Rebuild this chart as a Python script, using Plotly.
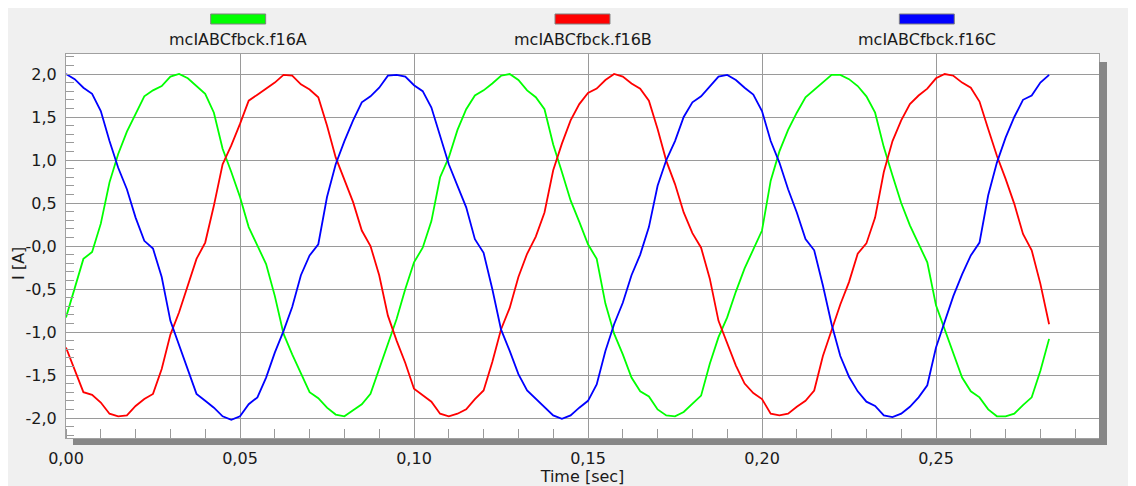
import plotly.graph_objects as go

# ---------------------------------------------------------------------------
# Data (sample step 2.5 ms)
# ---------------------------------------------------------------------------
time_s = [
    0.0000, 0.0025, 0.0050, 0.0075, 0.0100, 0.0125, 0.0150, 0.0175, 0.0200, 0.0225,
    0.0250, 0.0275, 0.0300, 0.0325, 0.0350, 0.0375, 0.0400, 0.0425, 0.0450, 0.0475,
    0.0500, 0.0525, 0.0550, 0.0575, 0.0600, 0.0625, 0.0650, 0.0675, 0.0700, 0.0725,
    0.0750, 0.0775, 0.0800, 0.0825, 0.0850, 0.0875, 0.0900, 0.0925, 0.0950, 0.0975,
    0.1000, 0.1025, 0.1050, 0.1075, 0.1100, 0.1125, 0.1150, 0.1175, 0.1200, 0.1225,
    0.1250, 0.1275, 0.1300, 0.1325, 0.1350, 0.1375, 0.1400, 0.1425, 0.1450, 0.1475,
    0.1500, 0.1525, 0.1550, 0.1575, 0.1600, 0.1625, 0.1650, 0.1675, 0.1700, 0.1725,
    0.1750, 0.1775, 0.1800, 0.1825, 0.1850, 0.1875, 0.1900, 0.1925, 0.1950, 0.1975,
    0.2000, 0.2025, 0.2050, 0.2075, 0.2100, 0.2125, 0.2150, 0.2175, 0.2200, 0.2225,
    0.2250, 0.2275, 0.2300, 0.2325, 0.2350, 0.2375, 0.2400, 0.2425, 0.2450, 0.2475,
    0.2500, 0.2525, 0.2550, 0.2575, 0.2600, 0.2625, 0.2650, 0.2675, 0.2700, 0.2725,
    0.2750, 0.2775, 0.2800, 0.2825,
]

i_a = [
    -0.83, -0.48, -0.15, -0.07, 0.26, 0.74, 1.07, 1.33, 1.54, 1.74,
    1.81, 1.86, 1.97, 2.00, 1.95, 1.86, 1.77, 1.55, 1.13, 0.86,
    0.57, 0.22, 0.00, -0.21, -0.58, -1.02, -1.26, -1.47, -1.70, -1.77,
    -1.88, -1.96, -1.98, -1.91, -1.84, -1.72, -1.43, -1.12, -0.85, -0.50,
    -0.19, -0.02, 0.29, 0.80, 1.03, 1.35, 1.59, 1.75, 1.81, 1.89,
    1.98, 2.00, 1.93, 1.81, 1.73, 1.59, 1.18, 0.86, 0.53, 0.28,
    0.02, -0.15, -0.67, -1.02, -1.26, -1.53, -1.69, -1.75, -1.90, -1.97,
    -1.98, -1.93, -1.83, -1.74, -1.37, -1.06, -0.83, -0.53, -0.26, -0.05,
    0.18, 0.76, 1.10, 1.35, 1.55, 1.73, 1.82, 1.90, 1.99, 1.99,
    1.94, 1.86, 1.74, 1.55, 1.15, 0.82, 0.50, 0.24, 0.03, -0.19,
    -0.69, -0.97, -1.25, -1.53, -1.69, -1.76, -1.90, -1.98, -1.98, -1.95,
    -1.85, -1.76, -1.45, -1.08,
]

i_b = [
    -1.18, -1.45, -1.70, -1.73, -1.82, -1.95, -1.98, -1.97, -1.86, -1.78,
    -1.72, -1.43, -1.03, -0.77, -0.46, -0.15, 0.04, 0.47, 0.95, 1.17,
    1.42, 1.69, 1.76, 1.83, 1.90, 1.99, 1.98, 1.88, 1.82, 1.73,
    1.40, 1.03, 0.78, 0.51, 0.18, 0.00, -0.34, -0.81, -1.10, -1.36,
    -1.66, -1.74, -1.81, -1.95, -1.98, -1.95, -1.90, -1.78, -1.68, -1.35,
    -0.97, -0.72, -0.36, -0.09, 0.11, 0.39, 0.88, 1.19, 1.46, 1.65,
    1.78, 1.83, 1.93, 2.00, 1.97, 1.89, 1.83, 1.69, 1.36, 0.99,
    0.72, 0.39, 0.15, -0.02, -0.38, -0.87, -1.14, -1.39, -1.60, -1.71,
    -1.78, -1.95, -1.97, -1.95, -1.87, -1.80, -1.68, -1.28, -0.98, -0.68,
    -0.42, -0.09, 0.03, 0.33, 0.86, 1.22, 1.46, 1.65, 1.75, 1.83,
    1.95, 2.00, 1.98, 1.90, 1.84, 1.68, 1.36, 1.05, 0.78, 0.49,
    0.14, -0.05, -0.44, -0.91,
]

i_c = [
    2.00, 1.94, 1.84, 1.77, 1.57, 1.22, 0.91, 0.66, 0.33, 0.06,
    -0.03, -0.36, -0.87, -1.15, -1.45, -1.72, -1.80, -1.88, -1.98, -2.02,
    -1.98, -1.84, -1.76, -1.53, -1.24, -0.99, -0.71, -0.34, -0.11, 0.02,
    0.57, 0.95, 1.22, 1.46, 1.67, 1.74, 1.84, 1.98, 1.99, 1.97,
    1.87, 1.80, 1.61, 1.28, 0.95, 0.70, 0.45, 0.08, -0.08, -0.50,
    -0.97, -1.22, -1.49, -1.68, -1.78, -1.87, -1.97, -2.01, -1.97, -1.88,
    -1.80, -1.61, -1.22, -0.91, -0.66, -0.34, -0.10, 0.22, 0.70, 1.00,
    1.22, 1.50, 1.67, 1.74, 1.86, 1.97, 1.99, 1.93, 1.84, 1.76,
    1.57, 1.22, 0.97, 0.66, 0.39, 0.08, -0.05, -0.46, -0.91, -1.28,
    -1.52, -1.69, -1.81, -1.86, -1.97, -1.99, -1.95, -1.87, -1.76, -1.62,
    -1.18, -0.89, -0.58, -0.33, -0.11, 0.04, 0.59, 0.97, 1.26, 1.50,
    1.70, 1.75, 1.90, 1.99,
]

series_names = ["mcIABCfbck.f16A", "mcIABCfbck.f16B", "mcIABCfbck.f16C"]
series_colors = ["#00ff00", "#ff0000", "#0000ff"]

x_ticks = [0.0, 0.05, 0.10, 0.15, 0.20, 0.25]
x_ticktext = ["0,00", "0,05", "0,10", "0,15", "0,20", "0,25"]
y_ticks = [-2.0, -1.5, -1.0, -0.5, 0.0, 0.5, 1.0, 1.5, 2.0]
y_ticktext = ["-2,0", "-1,5", "-1,0", "-0,5", "-0,0", "0,5", "1,0", "1,5", "2,0"]

GRID = "#9a9a9a"
TXT = "#1a1a1a"
SHADOW = "#878787"

fig = go.Figure()
for name, ys, color in zip(series_names, [i_a, i_b, i_c], series_colors):
    fig.add_trace(go.Scatter(
        x=time_s, y=ys, mode="lines", name=name,
        line=dict(color=color, width=1.8),
    ))

# drop shadow: a strip right of and below the plot frame
shapes = [
    dict(type="rect", xref="paper", yref="paper", x0=1.0, x1=1.00775, y0=-0.0182, y1=0.9792,
         fillcolor=SHADOW, line=dict(width=0)),
    dict(type="rect", xref="paper", yref="paper", x0=0.00678, x1=1.00775, y0=-0.0182, y1=-0.0026,
         fillcolor=SHADOW, line=dict(width=0)),
]

# legend: swatch above the label, items spread over the plot width
annotations = []
for i, (name, color) in enumerate(zip(series_names, series_colors)):
    cx = (2 * i + 1) / 6
    shapes.append(dict(type="rect", xref="paper", yref="paper",
                       x0=cx - 0.0266, x1=cx + 0.0266, y0=1.0781, y1=1.1042,
                       fillcolor=color, line=dict(color="#808080", width=1)))
    annotations.append(dict(text=name, xref="paper", yref="paper", x=cx, y=1.0365,
                            xanchor="center", yanchor="middle", showarrow=False,
                            font=dict(size=16, color=TXT)))

annotations.append(dict(text="I [A]", xref="paper", yref="paper", x=-0.0455, y=0.456,
                        textangle=-90, xanchor="center", yanchor="middle", showarrow=False,
                        font=dict(size=16, color=TXT)))

fig.update_layout(
    width=1128, height=478,
    margin=dict(l=58, r=37, t=46, b=48, pad=0),
    paper_bgcolor="#f0f0f0", plot_bgcolor="white",
    showlegend=False,
    font=dict(family="DejaVu Sans", size=16, color=TXT),
    shapes=shapes, annotations=annotations,
    xaxis=dict(
        range=[0, 0.29684], tickvals=x_ticks, ticktext=x_ticktext,
        showgrid=True, gridcolor=GRID, gridwidth=1, zeroline=False,
        showline=True, linecolor="#a0a0a0", linewidth=1, mirror=True,
        automargin=False,
        # invisible outside ticks only push the labels below the shadow strip
        ticks="outside", ticklen=6, tickcolor="rgba(0,0,0,0)",
        minor=dict(dtick=0.01, tick0=0, ticks="inside", ticklen=9, tickcolor=GRID, showgrid=False),
        title=dict(text="Time [sec]", standoff=4, font=dict(size=16, color=TXT)),
    ),
    yaxis=dict(
        range=[-2.2326, 2.2326], tickvals=y_ticks, ticktext=y_ticktext,
        showgrid=True, gridcolor=GRID, gridwidth=1, zeroline=False,
        showline=True, linecolor="#a0a0a0", linewidth=1, mirror=True,
        automargin=False,
        ticks="", ticklabelstandoff=5,
        minor=dict(dtick=0.1, tick0=0, ticks="inside", ticklen=8, tickcolor=GRID, showgrid=False),
    ),
)

fig.write_html("out.html")
